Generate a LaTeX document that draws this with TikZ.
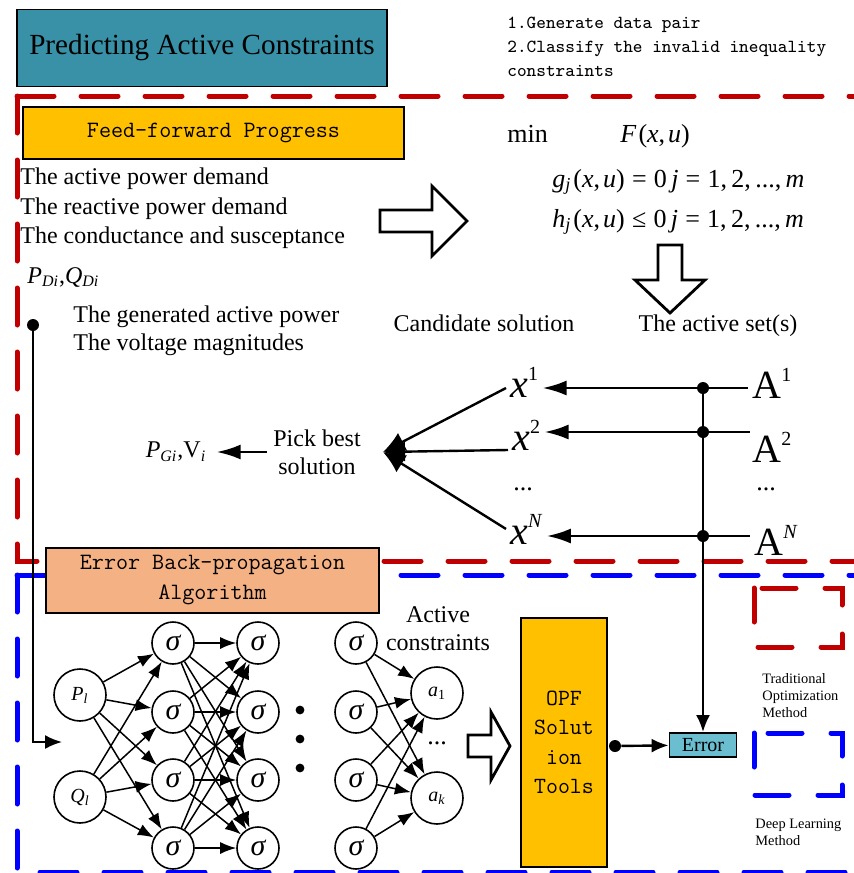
\documentclass[tikz,border=0pt]{standalone}
\usepackage{fontspec}
\setmainfont{Liberation Serif}
\usetikzlibrary{arrows.meta,positioning}
\definecolor{predteal}{HTML}{3891A7}
\definecolor{feedorange}{HTML}{FFC000}
\definecolor{backorange}{HTML}{F4B183}
\definecolor{errblue}{HTML}{6BBED0}
\definecolor{framered}{HTML}{C00000}
\definecolor{frameblue}{HTML}{0000FF}
\newcommand{\fsz}[2]{\fontsize{#1}{#2}\selectfont}
\newcommand{\supidx}[1]{\raisebox{8.5pt}{\fsz{10}{10}#1}}
\begin{document}
\begin{tikzpicture}[x=0.5pt,y=-0.5pt,
		box/.style={draw,line width=0.9pt,inner sep=0pt},
		mono/.style={font=\ttfamily\fsz{11.7}{15},align=center},
		lbl/.style={inner sep=0pt,font=\fsz{12}{14}},
		big/.style={inner sep=2pt,font=\fsz{20}{20}},
		neuron/.style={draw,circle,line width=0.8pt,inner sep=0pt,minimum size=21pt,font=\fsz{15}{15}\itshape},
		io/.style={neuron,minimum size=26pt,font=\fsz{10}{10}\itshape},
		syn/.style={-{Latex[length=8pt,width=6pt]},line width=0.75pt},
		flow/.style={-{Latex[length=12pt,width=7.5pt]},line width=1.35pt},
		pickarrow/.style={-{Latex[length=11pt,width=10pt]},line width=1.2pt},
		small/.style={-{Latex[length=8.5pt,width=7pt]},line width=1.2pt},
		junc/.style={circle,fill,inner sep=0pt,minimum size=6pt},
		hollow/.style={draw,line width=1.4pt,line join=miter},
		redframe/.style={draw=framered,line width=2.5pt,line cap=round,dash pattern=on 18.5pt off 13.5pt},
		blueframe/.style={redframe,draw=frameblue}]
	\useasboundingbox (0,0) rectangle (854,873);
	% frames
	\draw[redframe] (17,96) -- (860,96);
	\draw[redframe] (17,96) -- (17,561) -- (860,561);
	\draw[blueframe] (17,575) -- (860,575);
	\draw[blueframe] (17,575) -- (17,872) -- (860,872);
	
	\node[box,fill=predteal,minimum width=185pt,minimum height=38.5pt,font=\fsz{14.6}{17}] (title) at (202,48) {Predicting Active Constraints};
	\node[anchor=north west,inner sep=0pt,align=left,font=\ttfamily\fsz{9.2}{12}] (steps) at (507,17) {1.Generate data pair\\2.Classify the invalid inequality\\constraints};
	
	\node[box,fill=feedorange,mono,minimum width=190.5pt,minimum height=26pt] (feed) at (213.5,133) {Feed-forward Progress};
	\foreach \t [count=\i] in {The active power demand,The reactive power demand,The conductance and susceptance}
		\node[lbl,anchor=base west] (in\i) at (20,155+29.5*\i) {\t};
	\node[lbl,anchor=base west] (pqd) at (27,283) {\textit{P}\textsubscript{\textit{Di}},\textit{Q}\textsubscript{\textit{Di}}};
	\node[lbl,anchor=base west] (out1) at (73,322) {The generated active power};
	\node[lbl,anchor=base west] (out2) at (73,350) {The voltage magnitudes};
	\node[junc] (ffdot) at (33,325) {};
	\coordinate (netin) at (62,742);
	\draw[small,line width=1pt] (ffdot) |- (netin);
	
	\draw[hollow] (380,210) -- (432,210) -- (432,186) -- (467,221) -- (432,256) -- (432,232) -- (380,232) -- cycle;
	\begin{scope}[every node/.style={inner sep=0pt,anchor=base west,font=\fsz{13}{15}}]
		\node (minop) at (507,142) {min};
		\node (obj) at (620,142) {\textit{F}\kern1pt(\textit{x},\kern1.5pt\textit{u})};
		\node (eqc) at (552,187) {\textit{g}\textsubscript{\textit{j}}\kern1pt(\textit{x},\kern1.5pt\textit{u})\;=\;0\,\textit{j}\;=\;1,\,2,\,...,\,\textit{m}};
		\node (ineqc) at (552,227) {\textit{h}\textsubscript{\textit{j}}\kern1pt(\textit{x},\kern1.5pt\textit{u})\;≤\;0\,\textit{j}\;=\;1,\,2,\,...,\,\textit{m}};
	\end{scope}
	\draw[hollow] (658,245) -- (682,245) -- (682,280) -- (705,280) -- (670,313) -- (635,280) -- (658,280) -- cycle;
	\node[lbl,anchor=base] (cand) at (484,331) {Candidate solution};
	\node[lbl,anchor=base] (actset) at (718,331) {The active set(s)};
	
	\node[big,anchor=base west] (x1) at (506,397) {\textit{x}\supidx{1}};
	\node[big,anchor=base west] (x2) at (508,450) {\textit{x}\supidx{2}};
	\node[lbl,font=\fsz{13}{13}] (xdots) at (523,489) {...};
	\node[big,anchor=base west] (xN) at (506,544) {\textit{x}\supidx{\textit{N}}};
	\node[big,anchor=base west] (set1) at (748,398) {A\supidx{1}};
	\node[big,anchor=base west,inner sep=1pt] (set2) at (750,462) {A\supidx{2}};
	\node[lbl,font=\fsz{13}{13}] (setdots) at (766,489) {...};
	\node[big,anchor=base west] (setN) at (750,555) {A\supidx{\textit{N}}};
	\foreach \n/\y in {1/388,2/432,N/536}
		\node[junc] (j\n) at (703,\y) {};
	\foreach \n in {1,2,N}
		\draw[flow] (set\n.west |- j\n) -- (x\n.east |- j\n);
	
	\node[lbl,align=center,inner sep=3pt] (pick) at (317,452) {Pick best\\solution};
	\node[lbl,inner sep=5pt] (pgv) at (176,452) {\textit{P}\textsubscript{\textit{Gi}},V\textsubscript{\textit{i}}};
	\draw[flow] (pick.west) -- (pgv.east);
	\coordinate (meet) at (383,452);
	\draw[pickarrow] (x1.west |- j1) -- (meet);
	\draw[pickarrow] (x2.base west) -- (meet);
	\draw[pickarrow] (xN.west) -- (meet);
	
	\node[box,fill=backorange,mono,minimum width=166.5pt,minimum height=32.5pt] (back) at (212.5,580.5) {Error Back-propagation\\Algorithm};
	% network
	\node[io] (pin) at (80,695) {P\textsubscript{l}};
	\node[io] (qin) at (80,797) {Q\textsubscript{l}};
	\foreach \i/\y in {1/643,2/712,3/780,4/848} {
		\node[neuron] (h\i) at (173,\y) {σ};
		\node[neuron] (g\i) at (258,\y) {σ};
		\node[neuron] (k\i) at (356,\y) {σ};
	}
	\node[io] (o1) at (437,693) {a\textsubscript{\upshape 1}};
	\node[io] (ok) at (437,798) {a\textsubscript{k}};
	\foreach \s in {pin,qin}
		\foreach \t in {1,...,4}
			\draw[syn] (\s) -- (h\t);
	\foreach \s in {1,...,4}
		\foreach \t in {1,...,4}
			\draw[syn] (h\s) -- (g\t);
	\foreach \s in {1,...,4}
		\foreach \t in {o1,ok}
			\draw[syn] (k\s) -- (\t);
	\foreach \y in {710,739,768}
		\fill (300,\y) circle (2.2pt);
	\node[lbl,font=\fsz{13}{13}] (odots) at (437,743) {...};
	\node[lbl,align=center] (actlbl) at (438,629) {Active\\constraints};
	
	\draw[hollow] (468,735) -- (491,735) -- (491,712) -- (510,746) -- (491,780) -- (491,757) -- (468,757) -- cycle;
	\node[box,fill=feedorange,minimum width=43pt,minimum height=124.5pt,align=center,font=\ttfamily\fsz{11.6}{14.75}] (opf) at (564,742.5) {OPF\\Solut\\ion\\Tools};
	\node[junc] (opfout) at (615,746) {};
	\node[box,fill=errblue,minimum width=33.5pt,minimum height=12pt,font=\fsz{10}{10}] (err) at (703,745) {Error};
	\draw[small] (opfout) -- (err);
	\draw[small] (j1) -- (err);
	
	% legend
	\draw[redframe,dash pattern=on 17pt off 14.5pt] (754,588) rectangle (842,647);
	\draw[blueframe,dash pattern=on 17pt off 14.5pt] (754,733) rectangle (842,795);
	\node[anchor=north west,inner sep=0pt,align=left,font=\fsz{7.2}{8.5}] (tradlbl) at (762,673) {Traditional\\Optimization\\Method};
	\node[anchor=north west,inner sep=0pt,align=left,font=\fsz{7.2}{8.5}] (deeplbl) at (755,819) {Deep Learning\\Method};
\end{tikzpicture}
\end{document}
